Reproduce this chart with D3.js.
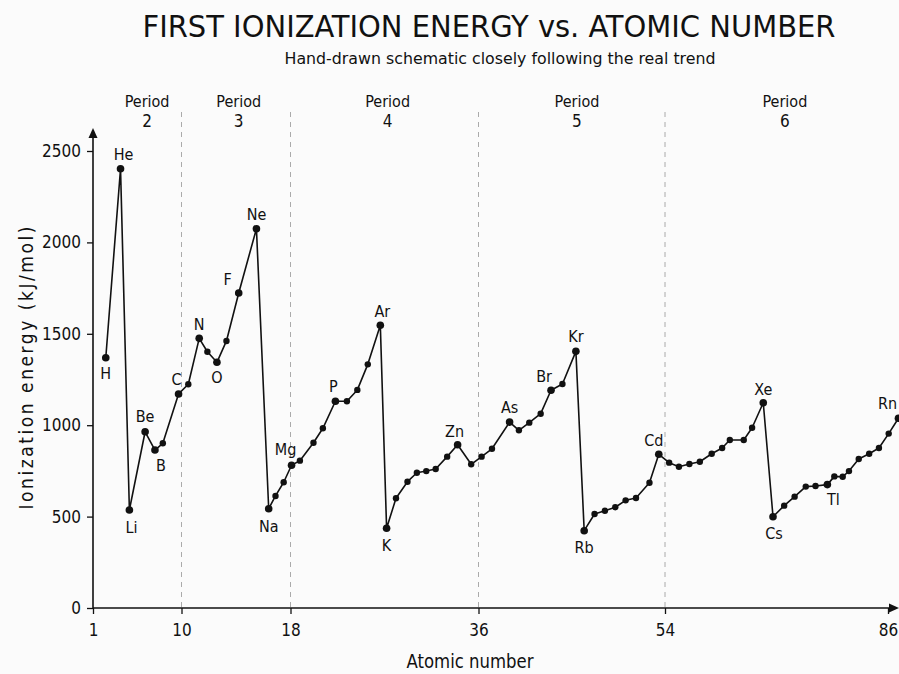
<!DOCTYPE html>
<html>
<head>
<meta charset="utf-8">
<script src="https://cdn.jsdelivr.net/npm/d3@7"></script>
<style>
  html, body { margin: 0; padding: 0; background: #fbfbfb; }
  svg { display: block; }
  text { font-family: "DejaVu Sans Condensed", "DejaVu Sans", sans-serif; fill: #111; }
</style>
</head>
<body>
<div id="chart"></div>
<script>
// Positions along the drawn axis (the sketch is not spaced evenly by atomic number)
const atomicPos = [
  2.3, 3.8, 4.7, 6.3, 7.3, 8.1, 9.7, 10.5, 11.3, 11.9, 12.6, 13.3, 14.2, 15.5,
  16.4, 16.9, 17.5, 18.1, 18.9, 20.2, 21.1, 22.3, 23.4, 24.4, 25.4, 26.6,
  27.2, 28.1, 29.2, 30.1, 31.0, 31.9, 33.0, 34.0, 35.3, 36.3, 37.3, 39.0, 39.9, 40.9, 42.0, 43.0, 44.1, 45.4,
  46.2, 47.2, 48.2, 49.2, 50.2, 51.2, 52.5, 53.4, 54.6, 56.0, 57.5, 59.0, 60.7, 62.2, 63.3, 65.3, 66.5, 68.1,
  69.5, 71.1, 72.6, 74.2, 75.6, 77.3, 78.3, 79.5, 80.4, 81.8, 83.3, 84.7, 86.1, 87.5
];

// First ionization energy, kJ/mol
const energy = [
  1369, 2403, 536, 964, 864, 901, 1171, 1224, 1475, 1402, 1344, 1461, 1723, 2075,
  543, 613, 688, 781, 806, 904, 983, 1131, 1131, 1193, 1333, 1547,
  436, 600, 691, 740, 749, 760, 828, 893, 786, 828, 871, 1017, 972, 1014, 1063, 1191, 1225, 1404,
  423, 514, 532, 551, 589, 602, 685, 841, 795, 773, 788, 800, 844, 875, 919, 919, 986, 1123,
  499, 560, 609, 664, 667, 675, 720, 718, 749, 815, 844, 875, 954, 1038
];

// Element symbols shown next to points ('' = unlabeled point)
const symbols = [
  'H', 'He', 'Li', 'Be', 'B', '', 'C', '', 'N', '', 'O', '', 'F', 'Ne',
  'Na', '', '', 'Mg', '', '', '', 'P', '', '', '', 'Ar',
  'K', '', '', '', '', '', '', 'Zn', '', '', '', 'As', '', '', '', 'Br', '', 'Kr',
  'Rb', '', '', '', '', '', '', 'Cd', '', '', '', '', '', '', '', '', '', 'Xe',
  'Cs', '', '', '', '', 'Tl', '', '', '', '', '', '', '', 'Rn'
];

const xTicks = [1, 10, 18, 36, 54, 86];
const yTicks = [0, 500, 1000, 1500, 2000, 2500];
const periodBounds = [10, 18, 36, 54];
const periodNames = ['2', '3', '4', '5', '6'];
const periodCenters = [6.5, 14.2, 27.3, 45.5, 71.2];

// label offsets [dx, dy] from the point centre
const labelOffset = {
  H: [0, 16], He: [3, -14], Li: [2, 17], Be: [0, -15], B: [6, 15], C: [-2, -15],
  N: [0, -14], O: [0, 15], F: [-11, -14], Ne: [0, -14], Na: [0, 18], Mg: [-6, -16],
  P: [-2, -15], Ar: [2, -14], K: [0, 17], Zn: [-3, -13], As: [0, -15], Br: [-7, -14],
  Kr: [0, -15], Rb: [0, 17], Cd: [-5, -14], Xe: [0, -13], Cs: [1, 17], Tl: [6, 15], Rn: [-11, -15]
};

const W = 899, H = 674;
const data = atomicPos.map((z, i) => ({ z, e: energy[i], s: symbols[i] }));

const svg = d3.select('#chart').append('svg')
  .attr('width', W).attr('height', H);

const x = d3.scaleLinear().domain(xTicks).range([93, 181.5, 290.5, 478.5, 665, 888]);
const y = d3.scaleLinear().domain([0, 2500]).range([608, 151]);

// Title
svg.append('text')
  .attr('x', 489).attr('y', 37)
  .attr('text-anchor', 'middle')
  .attr('font-size', 30)
  .attr('textLength', 693).attr('lengthAdjust', 'spacingAndGlyphs')
  .text('FIRST IONIZATION ENERGY vs. ATOMIC NUMBER');

svg.append('text')
  .attr('x', 500).attr('y', 64)
  .attr('text-anchor', 'middle')
  .attr('font-size', 15)
  .attr('textLength', 431).attr('lengthAdjust', 'spacingAndGlyphs')
  .text('Hand-drawn schematic closely following the real trend');

// Period separators
svg.append('g').selectAll('line')
  .data(periodBounds)
  .join('line')
  .attr('x1', d => x(d)).attr('x2', d => x(d))
  .attr('y1', 112).attr('y2', 608)
  .attr('stroke', '#aaa')
  .attr('stroke-width', 1)
  .attr('stroke-dasharray', '5,5');

const periods = svg.append('g').selectAll('g')
  .data(periodNames)
  .join('g')
  .attr('transform', (d, i) => `translate(${x(periodCenters[i])},0)`);
periods.append('text')
  .attr('y', 107).attr('text-anchor', 'middle').attr('font-size', 16)
  .text('Period');
periods.append('text')
  .attr('y', 127).attr('text-anchor', 'middle').attr('font-size', 17)
  .text(d => d);

// Axes
const xAxis = svg.append('g')
  .attr('transform', 'translate(0,608)')
  .call(d3.axisBottom(x).tickValues(xTicks).tickSize(6).tickPadding(10).tickFormat(d3.format('d')));
xAxis.select('.domain').remove();
xAxis.selectAll('text').attr('font-size', 17).attr('font-family', null);
xAxis.selectAll('line').attr('stroke', '#111').attr('stroke-width', 1.3);

const yAxis = svg.append('g')
  .attr('transform', 'translate(93,0)')
  .call(d3.axisLeft(y).tickValues(yTicks).tickSize(6).tickPadding(6).tickFormat(d3.format('d')));
yAxis.select('.domain').remove();
yAxis.selectAll('text').attr('font-size', 17).attr('font-family', null);
yAxis.selectAll('line').attr('stroke', '#111').attr('stroke-width', 1.3);

// axis lines with arrow heads
svg.append('line')
  .attr('x1', 93).attr('y1', 608).attr('x2', 893).attr('y2', 608)
  .attr('stroke', '#111').attr('stroke-width', 1.6);
svg.append('path')
  .attr('d', 'M899,608 L889,603.5 L889,612.5 Z')
  .attr('fill', '#111');
svg.append('line')
  .attr('x1', 93).attr('y1', 608).attr('x2', 93).attr('y2', 135)
  .attr('stroke', '#111').attr('stroke-width', 1.6);
svg.append('path')
  .attr('d', 'M93,128 L88.5,138 L97.5,138 Z')
  .attr('fill', '#111');

// Axis titles
svg.append('text')
  .attr('transform', 'translate(33,368) rotate(-90)')
  .attr('text-anchor', 'middle')
  .attr('font-size', 19)
  .attr('textLength', 283).attr('lengthAdjust', 'spacing')
  .text('Ionization energy (kJ/mol)');

svg.append('text')
  .attr('x', 470).attr('y', 668)
  .attr('text-anchor', 'middle')
  .attr('font-size', 19)
  .attr('textLength', 127).attr('lengthAdjust', 'spacingAndGlyphs')
  .text('Atomic number');

// Trend line
const line = d3.line().x(d => x(d.z)).y(d => y(d.e));
svg.append('path')
  .datum(data)
  .attr('d', line)
  .attr('fill', 'none')
  .attr('stroke', '#111')
  .attr('stroke-width', 1.6)
  .attr('stroke-linejoin', 'round');

svg.append('g').selectAll('circle')
  .data(data)
  .join('circle')
  .attr('cx', d => x(d.z))
  .attr('cy', d => y(d.e))
  .attr('r', d => d.s ? 3.8 : 3.2)
  .attr('fill', '#111');

// Element labels
svg.append('g').selectAll('text')
  .data(data.filter(d => d.s))
  .join('text')
  .attr('x', d => x(d.z) + labelOffset[d.s][0])
  .attr('y', d => y(d.e) + labelOffset[d.s][1])
  .attr('dy', '0.35em')
  .attr('text-anchor', 'middle')
  .attr('font-size', 16)
  .text(d => d.s);
</script>
</body>
</html>
